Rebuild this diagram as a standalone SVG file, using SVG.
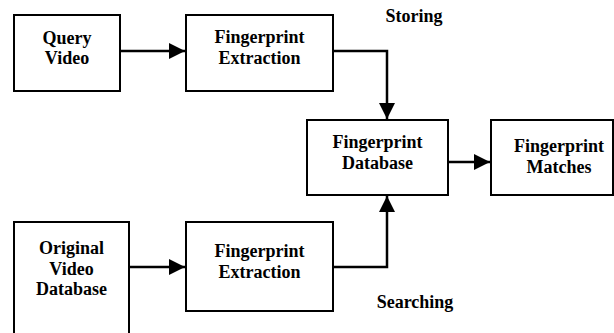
<svg xmlns="http://www.w3.org/2000/svg" width="614" height="333" viewBox="0 0 614 333">
<defs>
<style>
.box{fill:#fff;stroke:#000;stroke-width:2}
.c{fill:none;stroke:#000;stroke-width:2.5}
</style>
<marker id="ah" markerUnits="userSpaceOnUse" markerWidth="16" markerHeight="16" viewBox="0 0 16 16" refX="16" refY="8" orient="auto">
<path d="M0,0 L16,8 L0,16 Z" fill="#000"/>
</marker>
</defs>
<rect width="614" height="333" fill="#fff"/>
<g id="connectors">
<path class="c" d="M120,51 H185" marker-end="url(#ah)"/>
<path class="c" d="M333,51 H387 V119" marker-end="url(#ah)"/>
<path class="c" d="M448,162 H490" marker-end="url(#ah)"/>
<path class="c" d="M129,267 H185" marker-end="url(#ah)"/>
<path class="c" d="M333,267 H387 V196" marker-end="url(#ah)"/>
</g>
<g font-family="Liberation Serif, Times New Roman, serif" font-weight="bold" font-size="18" text-anchor="middle" fill="#000">
<g id="query">
<rect class="box" x="14" y="15" width="106" height="76"/>
<text x="67" y="44">Query</text>
<text x="67" y="64">Video</text>
</g>
<g id="extract1">
<rect class="box" x="186" y="15" width="147" height="76"/>
<text x="259.5" y="43">Fingerprint</text>
<text x="259.5" y="64">Extraction</text>
</g>
<g id="database">
<rect class="box" x="307" y="120" width="141" height="75"/>
<text x="377.5" y="148">Fingerprint</text>
<text x="377.5" y="169">Database</text>
</g>
<g id="matches">
<rect class="box" x="491" y="120" width="122" height="75"/>
<text x="559" y="152">Fingerprint</text>
<text x="559" y="173">Matches</text>
</g>
<g id="original">
<rect class="box" x="14" y="222" width="115" height="125"/>
<text x="71.5" y="254">Original</text>
<text x="71.5" y="275">Video</text>
<text x="71.5" y="295">Database</text>
</g>
<g id="extract2">
<rect class="box" x="186" y="222" width="147" height="89"/>
<text x="259.5" y="257">Fingerprint</text>
<text x="259.5" y="278">Extraction</text>
</g>
<g id="labels">
<text x="414" y="22">Storing</text>
<text x="415" y="308">Searching</text>
</g>
</g>
</svg>
